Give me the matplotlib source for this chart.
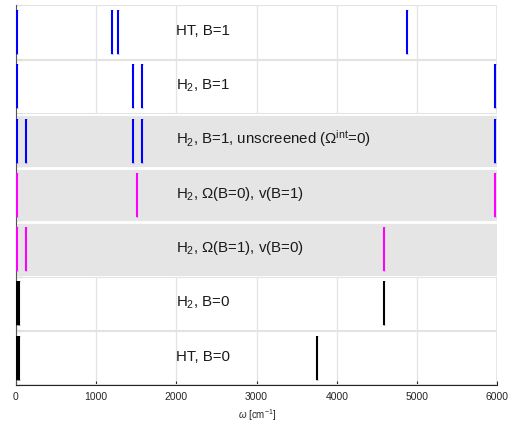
import matplotlib
matplotlib.use('Agg')
import matplotlib.pyplot as plt

plt.rcParams['font.family'] = ['Liberation Sans', 'DejaVu Sans']
plt.rcParams['mathtext.fontset'] = 'custom'
plt.rcParams['mathtext.rm'] = 'Liberation Sans'
plt.rcParams['mathtext.it'] = 'Liberation Sans:italic'

# frequencies of the lines in each panel (cm^-1), top to bottom
labels = ['HT, B=1',
          'H$_2$, B=1',
          r'H$_2$, B=1, unscreened ($\Omega^{\rm int}$=0)',
          r'H$_2$, $\Omega$(B=0), v(B=1)',
          r'H$_2$, $\Omega$(B=1), v(B=0)',
          'H$_2$, B=0',
          'HT, B=0']
ht_b1 = [8, 1194, 1276, 4880]
h2_b1 = [8, 1463, 1571, 5973]
h2_b1_unscr = [8, 129, 1459, 1575, 5973]
h2_om0_v1 = [8, 1513, 5973]
h2_om1_v0 = [8, 129, 4594]
h2_b0 = [5, 20, 35, 4594]
ht_b0 = [5, 20, 35, 3758]
series = [ht_b1, h2_b1, h2_b1_unscr, h2_om0_v1, h2_om1_v0, h2_b0, ht_b0]
colors = ['blue', 'blue', 'blue', 'magenta', 'magenta', 'black', 'black']
shaded = [False, False, True, True, True, False, False]

fig, axes = plt.subplots(7, 1, figsize=(5.15, 4.24), dpi=100, sharex=True)
fig.subplots_adjust(left=0.031, right=0.9656, top=0.9875, bottom=0.092, hspace=0)

for i, ax in enumerate(axes):
    if shaded[i]:
        ax.set_facecolor('#e5e5e5')
        ax.axhline(1, color='white', lw=2, zorder=1)
        ax.axhline(0, color='white', lw=2, zorder=1)
    else:
        ax.grid(True, axis='x', color='#e3e3e3', lw=0.9)
        ax.axhline(1, color='#e3e3e3', lw=1.5, zorder=1)
        ax.axhline(0, color='#e3e3e3', lw=1.5, zorder=1)
        ax.axvline(6000, color='#e3e3e3', lw=1.2, zorder=1)
    ax.set_axisbelow(True)
    xs = series[i]
    ax.vlines(xs, 0.1, 0.91, color=colors[i], lw=1.5, zorder=3)
    ax.plot(xs, [0.1] * len(xs), '_', color=colors[i], ms=2, mew=0.6, alpha=0.4, zorder=3)
    ax.plot(xs, [0.91] * len(xs), '_', color=colors[i], ms=2, mew=0.6, alpha=0.4, zorder=3)
    ax.text(2000, 0.45, labels[i], fontsize=10.8, va='baseline', ha='left', color='#1a1a1a')
    ax.set_xlim(0, 6000)
    ax.set_ylim(0, 1)
    ax.set_yticks([0, 1])
    ax.set_yticklabels([])
    ax.tick_params(axis='y', direction='in', length=4, width=0.8, color='#555555')
    for s in ['top', 'right', 'bottom']:
        ax.spines[s].set_visible(False)
    ax.spines['left'].set_color('#555555')
    ax.spines['left'].set_linewidth(0.8)
    if i < 6:
        ax.tick_params(axis='x', length=0, labelbottom=False)

ax = axes[-1]
ax.spines['bottom'].set_visible(True)
ax.spines['bottom'].set_color('#262626')
ax.spines['bottom'].set_linewidth(0.8)
ax.set_xticks(range(0, 6001, 1000))
ax.tick_params(axis='x', direction='in', length=3, width=0.8, labelsize=7.5, colors='#262626', pad=5)
ax.set_xlabel(r'$\omega$ [cm$^{-1}$]', fontsize=7, color='#262626', labelpad=4)

fig.savefig('out.png', dpi=100)
